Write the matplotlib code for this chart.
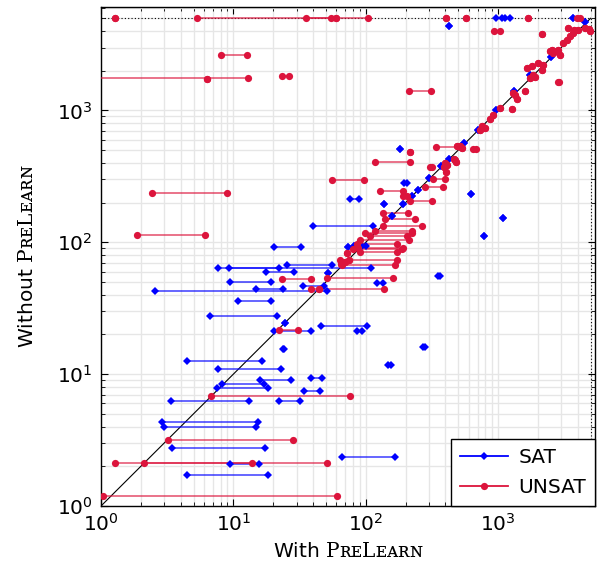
import matplotlib
matplotlib.use("Agg")
import matplotlib.pyplot as plt
from matplotlib.lines import Line2D

plt.rcParams["mathtext.fontset"] = "custom"
plt.rcParams["mathtext.rm"] = "DejaVu Serif"

TIMEOUT = 5000

# SAT instances: (time without PreLearn, min time with, max time with)
sat_y = [5000, 5000, 5000, 4395, 4655, 2541, 1866, 1394, 1000, 714,
         566, 512, 428, 376, 307, 281, 250, 233, 226, 214,
         196, 194, 159, 153, 134, 112.6, 92.9, 92, 93, 93,
         67.5, 64.1, 64.1, 59.4, 59, 56, 49.9, 49, 47.0, 44.2,
         42.6, 35.8, 27.7, 24.4, 23, 21.4, 21.4, 16.1, 15.6, 12.5,
         11.8, 10.9, 9.06, 9.42, 8.49, 7.87, 7.51, 6.27, 6.31, 4.32,
         4.0, 2.77, 2.37, 2.09, 1.72]
sat_lo = [964, 1128, 3660, 428, 4533, 2510, 1741, 1325, 964, 708,
          553, 181.6, 428, 369, 303, 194.5, 250, 621, 225, 76,
          192, 138, 157, 1095, 40.2, 782, 20.4, 73.8, 93.3, 81.5,
          25.3, 7.7, 9.28, 17.8, 51.6, 353, 9.44, 121, 33.4, 14.8,
          2.58, 10.8, 6.71, 24.7, 45.7, 20.3, 86.4, 269, 23.6, 4.45,
          146.6, 7.7, 16.0, 38.4, 8.18, 7.49, 34.4, 3.40, 22.1, 2.88,
          2.98, 3.43, 66.6, 9.44, 4.45]
sat_hi = [1064, 1230, 3660, 428, 4533, 2510, 1741, 1325, 964, 708,
          553, 181.6, 428, 369, 303, 206, 250, 621, 225, 89.5,
          192, 138, 157, 1095, 113, 782, 32.3, 73.8, 100.5, 81.5,
          56, 22.1, 109, 28.9, 51.6, 364, 19.4, 136, 48.4, 23.6,
          51.3, 19.4, 21.3, 24.7, 101.8, 38.6, 93, 281, 24.2, 16.6,
          154.5, 22.9, 27.4, 46.5, 17.1, 18.2, 45.2, 13.1, 31.8, 15.3,
          14.8, 17.3, 166, 15.5, 18.2]

# UNSAT instances
unsat_y = [5000, 5000, 5000, 5000, 5000, 5000, 5000, 5000, 4000, 3775,
           4217, 4093, 4217, 4150, 3975, 4093, 3864, 3640, 3436, 3243,
           2890, 2724, 2805, 2890, 2648, 2805, 2290, 2222, 2012, 2157,
           2099, 1866, 1792, 1762, 1355, 1316, 1221, 1411, 1025, 1042,
           927, 861, 765, 714, 735, 533, 540, 518, 512, 483,
           524, 428, 418, 406, 399, 387, 370, 339, 370, 302,
           261, 406, 296.5, 223, 246, 204, 1403, 1642, 2633, 1750,
           1720, 1834, 237.5, 113.5, 167, 151, 133, 122, 117, 112,
           104.5, 97.5, 90.8, 88.8, 83.7, 82.8, 72.8, 67.5, 69, 71,
           73, 53.5, 52.9, 44.4, 44.4, 21.7, 6.88, 3.19, 2.13, 2.13,
           1.2]
unsat_lo = [1.27, 5.35, 35.6, 60, 402, 572, 1690, 3925, 931, 2158,
            3388, 4036, 4533, 4831, 4943, 3741, 3698, 3491, 3296, 3106,
            2541, 2612, 2773, 2851, 2931, 2466, 2013, 2195, 2134, 1795,
            1645, 1845, 1901, 1741, 1303, 1342, 1381, 1597, 1280, 1033,
            910, 869, 760, 730, 796, 487, 515, 531, 650, 216,
            340, 464, 475, 481, 397, 409, 393, 402, 305, 324,
            281, 117.6, 55.4, 192, 128, 216, 213, 2834, 8.07, 0.8,
            6.33, 23.3, 2.42, 1.86, 136, 140, 136, 117.6, 98.8, 108,
            90.6, 85.5, 87.9, 80.6, 90.6, 71.8, 64, 66.2, 65, 70,
            75, 50.7, 23.2, 38.4, 44.5, 22.3, 6.79, 3.23, 1.27, 2.13,
            1.04]
unsat_hi = [1.27, 104.7, 54.4, 60, 402, 572, 1690, 4150, 1033, 2158,
            3388, 4036, 4533, 4831, 4943, 3741, 3698, 3491, 3296, 3106,
            2541, 2612, 2773, 2851, 2931, 2466, 2013, 2195, 2134, 1795,
            1645, 1845, 1901, 1741, 1303, 1342, 1381, 1597, 1280, 1033,
            910, 869, 760, 730, 796, 487, 515, 531, 681, 216,
            515, 464, 475, 481, 397, 409, 393, 402, 315, 395,
            385, 216, 97.6, 206, 192, 315, 311, 2900, 12.6, 12.8,
            6.33, 26.4, 8.96, 6.11, 210, 236, 265, 222, 222, 204,
            213, 171, 192, 187, 171.5, 71.8, 171, 166, 65, 70,
            75, 161.5, 38.4, 138, 44.5, 31, 76, 28.2, 13.8, 51.3,
            60.4]

SAT_COLOR = "#0000ff"
UNSAT_COLOR = "#dc143c"


def draw_ranges(ax, ys, lo, hi, color, marker, ms):
    for y, a, b in zip(ys, lo, hi):
        ax.plot([a, b], [y, y], color=color, lw=1.3, alpha=0.65,
                solid_capstyle="butt", zorder=3)
        ax.plot([a, b], [y, y], linestyle="none", marker=marker,
                color=color, ms=ms, mew=0, zorder=4)


fig = plt.figure(figsize=(5.97, 5.70), dpi=100)
ax = fig.add_axes([101 / 597, 1 - 506 / 570, 494 / 597, 499 / 570])
ax.set_xscale("log")
ax.set_yscale("log")
ax.set_xlim(1, 5400)
ax.set_ylim(1, 6090)

ax.grid(which="both", color="#e6e6e6", lw=1.0, zorder=0)
ax.set_axisbelow(True)

ax.plot([1, TIMEOUT], [1, TIMEOUT], color="black", lw=0.8, zorder=2)
ax.plot([1, TIMEOUT], [TIMEOUT, TIMEOUT], color="black", lw=0.8,
        ls=(0, (1, 2)), zorder=2)
ax.plot([TIMEOUT, TIMEOUT], [1, TIMEOUT], color="black", lw=0.8,
        ls=(0, (1, 2)), zorder=2)

draw_ranges(ax, sat_y, sat_lo, sat_hi, SAT_COLOR, "D", 3.8)
draw_ranges(ax, unsat_y, unsat_lo, unsat_hi, UNSAT_COLOR, "o", 5.2)

ax.tick_params(which="both", direction="in", top=True, right=True,
               labelsize=14.5)
ax.tick_params(axis="x", pad=5)
ax.tick_params(axis="y", pad=6)
ax.tick_params(which="major", length=5)
ax.tick_params(which="minor", length=3)
for s in ax.spines.values():
    s.set_linewidth(1.0)

ax.set_xlabel("With $\\mathrm{PʀᴇLᴇᴀʀɴ}$", fontsize=14.5, labelpad=5)
ax.set_ylabel("Without $\\mathrm{PʀᴇLᴇᴀʀɴ}$", fontsize=14.5, labelpad=14)

handles = [
    Line2D([], [], color=SAT_COLOR, lw=1.3, marker="D", ms=3.8, mew=0),
    Line2D([], [], color=UNSAT_COLOR, lw=1.3, marker="o", ms=5.2, mew=0),
]
leg = ax.legend(handles, ["SAT", "UNSAT"], loc="lower right",
                fontsize=14.5, frameon=True, fancybox=False,
                borderaxespad=0, handlelength=2.4, borderpad=0.45,
                labelspacing=0.55, handletextpad=0.5)
leg.get_frame().set_edgecolor("black")
leg.get_frame().set_linewidth(1.0)
leg.get_frame().set_alpha(1.0)
leg.set_zorder(10)

fig.savefig("out.png", dpi=100)
